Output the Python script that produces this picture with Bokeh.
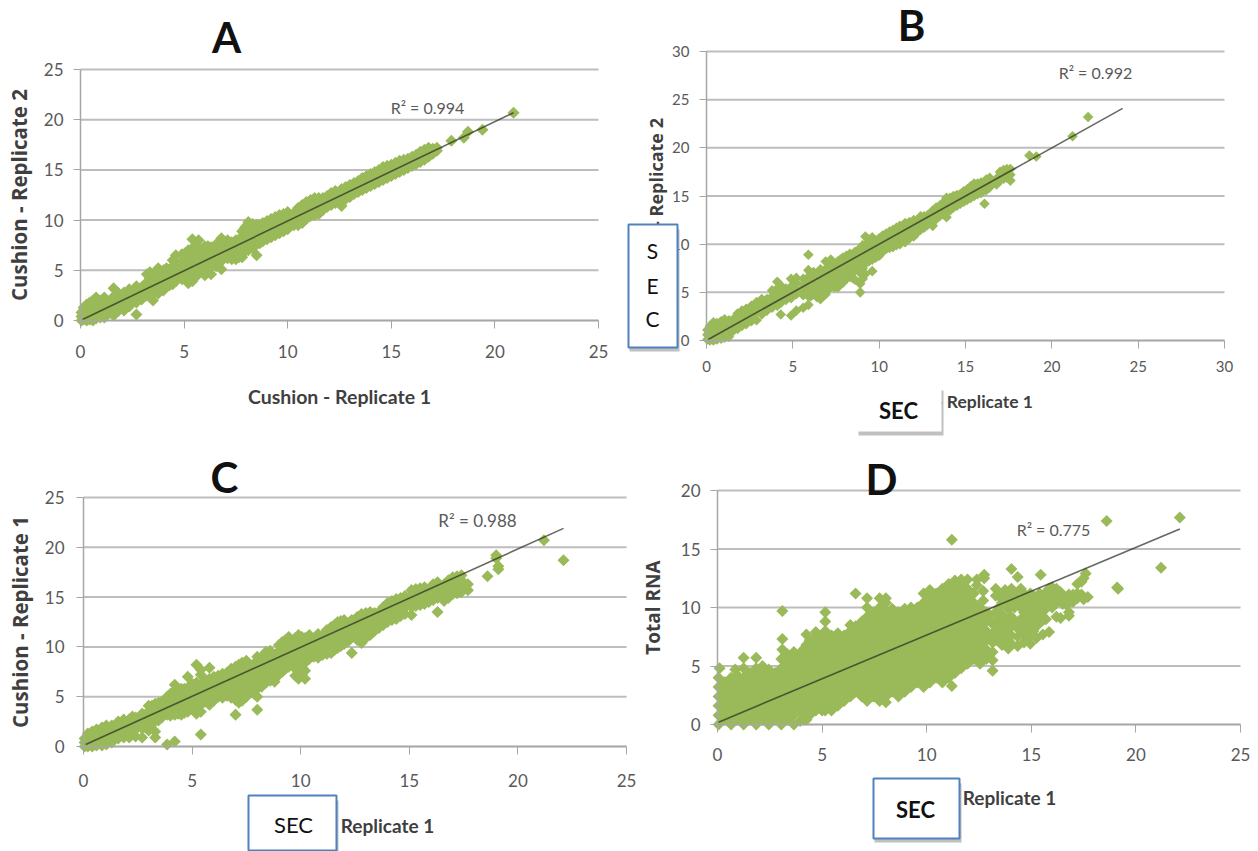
from math import pi
from bokeh.embed import file_html
from bokeh.resources import INLINE
from bokeh.layouts import column, row
from bokeh.models import BoxAnnotation, FixedTicker, Label, Range1d
from bokeh.plotting import figure

GREEN = "#9ABA59"
GRID = "#BDBDBD"
TICK = "#595959"
TITLE = "#3F3F3F"
BLUE = "#4F81BD"
FONT = "Lato"
FONT_Y = "Open Sans"

panel_titles = ["A", "B", "C", "D"]
r2_labels = ["R² = 0.994", "R² = 0.992", "R² = 0.988", "R² = 0.775"]

a_columns = [(0.05,[0.0,0.4,0.8]),(0.15,[0.1,0.6,1.0,1.3]),(0.3,[0.0,0.5,1.0,1.6]),(0.45,[0.1,0.6,1.2,1.8]),
 (0.6,[0.0,0.5,1.0,1.5,2.0]),(0.75,[0.2,0.8,1.4,2.3]),(0.95,[0.3,0.9,1.5,2.0]),(1.15,[0.3,1.0,1.6,2.3]),
 (1.35,[0.7,1.3,1.9]),(1.6,[0.5,1.1,1.7,2.4,3.2]),(1.85,[1.0,1.6,2.2,2.7]),(2.1,[1.0,1.6,2.2,2.8]),
 (2.35,[1.4,2.0,2.6,3.1]),(2.7,[0.6,1.8,2.4,3.0,3.4]),(2.95,[2.1,2.7,3.3]),(3.2,[2.5,3.1,3.8,4.6]),
 (3.35,[2.4,3.0,3.6,4.2,4.8]),(3.5,[2.0,2.8,3.4,4.0,4.6]),(3.75,[2.7,3.3,3.9,4.6,5.2]),(4.0,[3.0,3.4,4.0,4.6,5.0]),
 (4.15,[3.4,4.0,4.7,5.2]),(4.3,[3.5,3.7,4.3,4.9]),(4.45,[3.6,4.2,4.8,5.4,6.0]),
 (4.6,[3.9,4.5,5.1,5.7,6.5]),(4.9,[4.1,4.7,5.3,5.9,6.6]),(5.05,[4.2,4.8,5.4,6.0,6.7]),(5.2,[3.7,4.5,5.1,5.7,6.3,7.0]),
 (5.4,[3.9,4.6,5.2,5.8,6.4,7.2,8.1]),(5.55,[4.3,4.9,5.5,6.1,6.7,7.5]),(5.7,[4.8,5.4,6.0,6.6,7.3,8.0]),(6.0,[4.5,5.2,5.8,6.4,7.0,7.4]),
 (6.15,[5.0,5.6,6.2,6.8,7.4]),(6.3,[4.6,5.5,6.1,6.7,7.3]),(6.55,[5.4,6.0,6.6,7.2,7.6]),(6.8,[5.1,5.9,6.5,7.1,7.7,8.2]),(7.1,[6.2,6.8,7.4,8.0]),
 (7.3,[6.1,6.5,7.2,7.8]),(7.5,[6.1,6.8,7.4,8.0]),(7.65,[6.3,6.9,7.5,8.1]),
 (7.8,[6.3,7.0,7.6,8.2,8.9]),(7.95,[6.9,7.5,8.1,8.7,9.3]),(8.1,[7.0,7.6,8.2,8.9,9.8]),(8.3,[7.2,7.8,8.4,9.0,9.6]),(8.5,[6.5,7.6,8.2,8.8,9.5]),(8.65,[7.7,8.3,8.9,9.5]),(8.8,[7.9,8.5,9.1,9.7]),
 (9.0,[8.1,8.7,9.3,9.9]),(9.2,[8.3,8.9,9.5,10.1]),(9.4,[8.5,9.1,9.7,10.3]),(9.6,[8.7,9.3,9.9,10.5]),(9.8,[8.9,9.5,10.1,10.6]),(10.0,[9.1,9.7,10.3,10.8]),(10.3,[9.5,10.1,10.7]),(10.5,[9.5,10.2,10.8,11.2]),
 (10.7,[9.7,10.3,10.9,11.5]),(10.9,[10.1,10.7,11.3,11.8]),(11.1,[10.4,11.0,11.6,12.0]),(11.3,[10.5,11.1,11.7,12.2]),(11.5,[10.6,11.2,11.8,12.2]),(11.7,[11.0,11.6,12.2]),(11.9,[11.3,11.9,12.4]),(12.1,[11.5,12.1,12.7]),
 (12.3,[11.7,12.3,12.9]),(12.6,[11.4,12.1,12.7,13.1]),(12.8,[12.1,12.7,13.3]),(13.0,[12.3,12.9,13.5]),(13.2,[12.6,13.2,13.7]),(13.4,[12.8,13.4,13.9]),(13.6,[13.0,13.6,14.2]),
 (13.8,[13.2,13.8,14.4]),(14.0,[13.4,14.0,14.6]),(14.2,[13.6,14.2,14.8]),(14.4,[13.8,14.4,15.0]),(14.6,[14.0,14.6,15.3]),(14.8,[14.2,14.8,15.4]),(15.0,[14.4,15.0,15.5]),
 (15.2,[14.6,15.2,15.7]),(15.4,[14.8,15.4,15.9]),(15.6,[15.0,15.6,16.0]),(15.8,[15.2,15.7,16.1]),(16.0,[15.4,15.9,16.3]),(16.2,[15.6,16.1,16.5]),(16.4,[15.8,16.3,16.8]),(16.6,[16.0,16.5,17.0]),
 (16.8,[16.3,16.8,17.2]),(17.0,[16.6,17.1]),(17.2,[16.9,17.2]),(17.9,[17.9]),(18.5,[18.2]),(18.7,[18.8]),(19.4,[19.0]),(20.9,[20.7])]

b_columns = [(0.05,[0.1,0.6,1.1]),(0.2,[0.0,0.5,1.0,1.5]),(0.4,[0.0,0.6,1.2,1.9]),(0.6,[0.1,0.7,1.3,1.8]),
 (0.85,[0.2,0.8,1.4,2.0]),(1.05,[0.3,0.9,1.5,2.2]),(1.3,[0.4,1.0,1.6,2.1]),(1.55,[1.0,1.6,2.2]),
 (1.8,[1.2,1.8,2.4,2.8]),(2.05,[1.5,2.1,2.7,3.1]),(2.3,[1.7,2.3,2.9,3.3]),(2.6,[2.0,2.6,3.2,3.6]),
 (2.9,[2.1,2.9,3.5,4.0]),(3.2,[2.7,3.3,3.9,4.3]),(3.5,[3.1,3.7,4.3]),(3.8,[3.4,4.0,4.6,5.2]),
 (4.1,[3.6,4.2,4.8,5.4,6.1]),(4.3,[2.7,3.9,4.5,5.1,5.7]),(4.6,[4.2,4.8,5.4]),(4.9,[2.6,4.4,5.0,5.6,6.4]),
 (5.2,[3.1,4.8,5.4,6.0,6.5]),(5.6,[3.4,4.7,5.2,5.8,6.4]),(5.9,[3.7,4.6,5.4,6.0,6.6,7.3,8.9]),
 (6.05,[4.6,5.2,5.8,6.4,7.0]),(6.2,[5.3,5.9,6.5,7.1]),(6.4,[4.5,5.1,5.7,6.3,6.9]),(6.6,[4.3,5.0,5.7,6.3,6.9,7.4]),(6.75,[4.6,5.3,5.9,6.5,7.1]),(6.9,[4.8,5.5,6.1,6.7,7.3,8.2]),
 (7.05,[5.3,5.9,6.5,7.1,7.7]),(7.2,[5.6,6.2,6.8,7.4,8.4]),(7.4,[5.5,6.1,6.7,7.3,7.9]),(7.6,[5.5,6.3,7.0,7.6,8.2]),(7.75,[5.9,6.6,7.2,7.8,8.4]),(7.9,[6.0,6.8,7.4,8.0,8.6]),(8.1,[6.4,7.0,7.6,8.2,8.8]),(8.3,[6.6,7.3,7.9,8.5,9.0]),
 (8.45,[6.5,7.1,7.7,8.3,8.9]),(8.6,[6.3,7.3,8.0,8.6,9.2]),(8.9,[5.0,5.9,7.0,7.7,8.3,8.9,9.6]),(9.05,[6.4,7.5,8.1,8.7,9.3,9.9]),(9.2,[6.9,8.0,8.6,9.2,9.9,10.8]),
 (9.4,[8.2,8.8,9.4,10.0,10.5]),(9.6,[7.2,8.4,9.0,9.6,10.2,10.7]),(9.8,[8.6,9.2,9.8,10.4]),(10.0,[8.8,9.4,10.0,10.6]),(10.2,[9.2,9.8,10.4,10.9]),(10.4,[9.5,10.1,10.7,11.1]),(10.6,[9.6,10.2,10.8,11.3]),(10.8,[9.7,10.4,11.0,11.5]),
 (11.0,[9.9,10.5,11.1,11.7]),(11.2,[10.0,10.7,11.3,11.9]),(11.5,[10.2,11.0,11.6,12.2]),(11.75,[10.6,11.2,11.8,12.3]),(12.0,[10.8,11.4,12.0,12.5]),(12.2,[11.2,11.8,12.4]),(12.4,[11.5,12.1,12.9]),(12.6,[11.7,12.3,12.9]),
 (12.8,[12.0,12.6,13.0]),(13.1,[11.9,12.4,13.0,13.5]),(13.3,[12.6,13.2,13.8]),(13.5,[12.9,13.5,14.0]),(13.7,[13.1,13.7,14.3]),(13.9,[12.8,13.5,14.1,14.8]),(14.1,[13.5,14.1,14.8]),
 (14.3,[13.8,14.4,15.0]),(14.5,[14.0,14.6,15.1]),(14.7,[14.2,14.8,15.2]),(14.9,[14.4,15.0,15.5]),(15.1,[14.6,15.2,15.7]),(15.3,[14.8,15.4,16.0]),(15.5,[15.0,15.6,16.3]),(15.7,[15.2,15.8,16.3]),
 (15.9,[15.3,15.9,16.4]),(16.1,[14.2]),(16.2,[15.6,16.2,16.7]),(16.4,[15.9,16.4,16.9]),(16.8,[16.2,16.8]),(17.0,[16.6,17.1,17.5]),(17.2,[16.8,17.3,17.7]),(17.4,[16.9,17.4,17.8]),
 (17.6,[16.6,17.2,17.8]),(18.7,[19.2]),(19.1,[19.1]),(21.2,[21.2]),(22.1,[23.2])]

c_columns = [(0.05,[0.0,0.4,0.8]),(0.2,[0.0,0.5,1.0,1.3]),(0.4,[0.0,0.5,1.0,1.5]),(0.6,[0.1,0.7,1.2,1.7]),
 (0.85,[0.1,0.7,1.3,1.9]),(1.05,[0.2,0.8,1.4,2.1]),(1.3,[0.4,1.0,1.6,2.1]),(1.6,[0.8,1.4,2.0,2.5]),
 (1.85,[0.9,1.5,2.1,2.7]),(2.1,[0.9,1.5,2.1,2.7]),(2.25,[1.2,1.9,2.5,3.0]),(2.4,[1.0,1.7,2.3,2.9]),(2.7,[0.9,1.8,2.4,3.0,3.3]),(2.85,[1.9,2.6,3.2]),
 (3.0,[1.6,2.3,2.9,3.5,4.1]),(3.15,[2.2,2.9,3.5,4.1]),(3.3,[0.9,1.5,2.7,3.3,3.9,4.3]),(3.45,[2.6,3.2,3.8,4.4]),(3.6,[2.9,3.5,4.1,4.5]),(3.85,[0.2,3.2,3.8,4.4,5.0]),(4.0,[3.1,3.7,4.3,4.9,5.3]),
 (4.2,[0.5,3.2,3.8,4.4,5.0,5.6,6.2]),(4.35,[3.3,3.9,4.5,5.1,5.7]),(4.5,[3.2,3.9,4.5,5.1,5.8]),(4.65,[3.4,4.0,4.6,5.2,5.8]),(4.8,[3.5,4.1,4.7,5.3,5.9,7.0]),(5.0,[3.9,4.5,5.1,5.7,6.3]),
 (5.2,[3.3,4.0,4.6,5.2,5.8,6.4,8.2]),(5.4,[1.2,3.5,4.2,4.8,5.4,6.0,7.2,7.7]),(5.6,[4.5,5.1,5.7,6.3,6.7]),(5.8,[4.2,5.0,5.6,6.2,6.8,7.9]),(6.0,[4.6,5.3,5.9,6.5,7.0]),
 (6.2,[5.0,5.6,6.2,6.8,7.1]),(6.4,[4.9,5.5,6.1,6.7,7.3]),(6.6,[5.1,5.7,6.3,6.9,7.4]),(6.8,[4.9,5.4,6.0,6.6,7.2,7.8]),(7.0,[3.2,4.7,5.5,6.1,6.7,7.3,8.0]),
 (7.15,[4.4,5.1,5.7,6.3,6.9,7.5,8.2]),(7.3,[4.6,5.4,6.0,6.6,7.2,7.8,8.4]),(7.5,[5.0,5.6,6.2,6.8,7.4,8.0,8.6]),(7.7,[5.5,6.2,6.8,7.4,8.0]),(7.85,[5.3,5.9,6.5,7.1,7.7,8.3]),(8.0,[3.7,5.0,5.8,6.5,7.1,7.7,8.3,9.0]),
 (8.2,[6.0,6.6,7.2,7.8,8.4,9.0]),(8.4,[6.4,7.0,7.6,8.2,8.8,9.5]),(8.6,[6.6,7.2,7.8,8.4,9.0,9.6]),(8.8,[6.5,7.3,7.9,8.5,9.1]),(9.0,[7.2,7.8,8.4,9.0,9.6,10.2]),(9.15,[7.5,8.1,8.7,9.3,9.9,10.5]),(9.3,[7.8,8.5,9.1,9.7,10.7]),(9.45,[8.0,8.6,9.2,9.8,10.4,11.0]),(9.6,[8.2,8.8,9.4,10.0,10.6]),
 (9.75,[7.1,7.8,8.5,9.1,9.7,10.3,10.9]),(9.9,[6.8,7.5,8.2,8.8,9.4,10.0,11.2]),(10.05,[7.2,7.9,8.6,9.2,9.8,10.4,11.0]),(10.2,[6.8,7.6,8.4,9.0,9.6,10.2,10.9]),(10.4,[8.8,9.4,10.0,10.6,11.2]),(10.6,[9.0,9.6,10.2,10.8]),(10.8,[8.9,9.5,10.1,10.7,11.3]),
 (11.0,[9.2,9.9,10.5,11.1]),(11.2,[9.3,9.9,10.5,11.1,11.7]),(11.4,[9.4,10.1,10.7,11.3,12.0]),(11.55,[9.7,10.3,10.9,11.5,12.2]),(11.7,[9.9,10.5,11.1,11.7,12.5]),(11.85,[10.1,10.7,11.3,11.9,12.6]),
 (12.0,[10.3,10.9,11.5,12.1,12.7]),(12.2,[10.6,11.2,11.8,12.4]),(12.35,[9.4,11.0,11.6,12.2,12.7]),(12.6,[10.7,11.3,11.9,12.5,13.0]),(12.8,[10.4,11.0,11.6,12.2,12.8,13.3]),(13.0,[10.9,11.5,12.1,12.7,13.4]),
 (13.2,[11.2,11.8,12.4,13.0,13.5]),(13.4,[11.6,12.2,12.8,13.4]),(13.6,[11.9,12.5,13.1,13.5]),(13.8,[12.2,12.8,13.4,14.0]),(14.0,[12.5,13.1,13.7,14.4]),(14.2,[12.7,13.3,13.9,14.6]),(14.4,[12.8,13.5,14.1,14.8]),(14.6,[13.1,13.7,14.3,14.9]),
 (14.8,[13.3,13.9,14.5,15.1]),(15.1,[13.2,14.0,14.6,15.2,15.7]),(15.3,[14.1,14.7,15.3,15.8]),(15.5,[14.2,14.8,15.4,15.9]),(15.7,[14.3,14.9,15.5,16.0]),(15.9,[14.5,15.1,15.7]),(16.1,[14.7,15.3,15.9,16.3]),
 (16.3,[13.5,14.9,15.5,16.1,16.5]),(16.6,[14.6,15.2,15.8,16.3]),(16.8,[14.9,15.5,16.1,16.7]),(17.0,[15.3,15.9,16.5,17.0]),(17.2,[15.4,16.0,16.6,17.1]),(17.4,[15.5,16.1,16.7,17.2]),
 (17.7,[15.7,16.3]),(18.6,[17.1]),(19.0,[18.9,19.2]),(19.1,[17.8,18.1]),(21.2,[20.7]),(22.1,[18.7])]

d_columns = [(0.05,[0.0,0.8,1.6,2.4,3.2,4.0]),(0.1,[4.8]),(0.35,[0.4,1.2,2.0,2.8,3.6]),(0.65,[0.0,0.8,1.6,2.4,3.2,4.0]),
 (0.85,[4.7]),(0.95,[0.4,1.2,2.0,2.8,3.6,4.2]),(1.25,[0.0,0.8,1.6,2.4,3.2,4.0,4.8,5.7]),(1.55,[0.4,1.2,2.0,2.8,3.6,4.4]),
 (1.85,[0.0,0.8,1.6,2.4,3.2,4.0,4.8,5.7]),(2.15,[0.4,1.2,2.0,2.8,3.6,4.4,5.0]),(2.45,[0.0,0.8,1.6,2.4,3.2,4.0,4.7]),
 (2.75,[0.4,1.2,2.0,2.8,3.6,4.4]),(3.05,[0.0,0.8,1.6,2.4,3.2,4.0,4.8,5.6]),(3.1,[6.4,7.3,9.7]),
 (3.35,[0.4,1.2,2.0,2.8,3.6,4.4,5.2,6.0]),(3.65,[0.0,0.8,1.6,2.4,3.2,4.0,4.8,5.6,6.2]),
 (3.95,[0.3,1.2,2.0,2.8,3.6,4.4,5.2,6.0]),(4.1,[0.4,0.8,1.6,2.4,3.2,4.0,4.8,5.6,6.4]),(4.25,[0.4,1.2,2.0,2.8,3.6,4.4,5.2,6.0,6.8,7.7]),(4.4,[0.8,1.6,2.4,3.2,4.0,4.8,5.6,6.4,7.2]),
 (4.55,[1.3,1.6,2.4,3.2,4.0,4.8,5.6,6.4,7.2]),(4.7,[1.2,2.0,2.8,3.6,4.4,5.2,6.0,6.8,7.9]),(4.85,[1.6,2.4,3.2,4.0,4.8,5.6,6.4,7.2,7.6]),(5.0,[1.2,2.0,2.8,3.6,4.4,5.2,6.0,6.8,7.6]),
 (5.15,[1.2,1.6,2.4,3.2,4.0,4.8,5.6,6.4,7.2,8.0,8.8,9.6]),(5.45,[1.2,2.0,2.8,3.6,4.4,5.2,6.0,6.8,7.6]),
 (5.75,[1.6,2.4,3.2,4.0,4.8,5.6,6.4,7.2,7.8]),(6.05,[2.0,2.8,3.6,4.4,5.2,6.0,6.8,7.6]),
 (6.35,[2.4,3.2,4.0,4.8,5.6,6.4,7.2,8.0,8.5]),(6.6,[2.8,3.6,4.4,5.2,6.0,6.8,7.6,8.4,11.2]),
 (6.9,[2.4,3.2,4.0,4.8,5.6,6.4,7.2,8.0,8.8]),(7.15,[2.0,2.8,3.6,4.4,5.2,6.0,6.8,7.6,8.4,9.2,10.0,10.8]),
 (7.45,[2.4,3.2,4.0,4.8,5.6,6.4,7.2,8.0,8.8,9.6]),(7.75,[2.0,2.8,3.6,4.4,5.2,6.0,6.8,7.6,8.4,9.2,10.0,10.8]),
 (8.05,[1.9,2.4,3.2,4.0,4.8,5.6,6.4,7.2,8.0,8.8,9.6,10.4,10.8]),(8.35,[2.8,3.6,4.4,5.2,6.0,6.8,7.6,8.4,9.2,9.9]),
 (8.65,[2.4,3.2,4.0,4.8,5.6,6.4,7.2,8.0,8.8,9.6]),(8.95,[2.8,3.6,4.4,5.2,6.0,6.8,7.6,8.4,9.2,9.9]),
 (9.25,[3.2,4.0,4.8,5.6,6.4,7.2,8.0,8.8,9.6,10.0]),(9.55,[3.6,4.4,5.2,6.0,6.8,7.6,8.4,9.2,10.0]),
 (9.85,[3.2,4.0,4.8,5.6,6.4,7.2,8.0,8.8,9.6,10.4,11.2]),(10.15,[3.6,4.4,5.2,6.0,6.8,7.6,8.4,9.2,10.0,10.8,11.5]),
 (10.45,[4.0,4.8,5.6,6.4,7.2,8.0,8.8,9.6,10.4,11.2]),(10.75,[3.6,4.4,5.2,6.0,6.8,7.6,8.4,9.2,10.0,10.8,11.6]),
 (11.05,[4.0,4.8,5.6,6.4,7.2,8.0,8.8,9.6,10.4,11.2,12.0]),(11.2,[3.3,15.8]),
 (11.35,[4.4,5.2,6.0,6.8,7.6,8.4,9.2,10.0,10.8,11.6,12.3]),(11.65,[4.8,5.6,6.4,7.2,8.0,8.8,9.6,10.4,11.2,12.0,12.4]),
 (11.95,[5.2,6.0,6.8,7.6,8.4,9.2,10.0,10.8,11.6,12.4]),(12.25,[5.6,6.4,7.2,8.0,8.8,9.6,10.4,11.2]),
 (12.4,[11.9,12.4]),(12.55,[5.2,6.0,6.8,7.6,8.4,9.2,10.0]),(12.7,[10.6,11.4]),(12.75,[12.5,12.8]),(12.85,[5.6,6.4,7.2,8.0,8.8,9.6]),
 (13.0,[6.0,7.4,9.0,9.4]),(13.15,[4.6,5.5,6.2,7.0,7.8,8.6]),(13.3,[7.2,8.0,8.8,9.6,11.0,11.6]),(13.45,[7.6,8.4,9.2,10.0,11.0]),(13.6,[6.8,7.9,8.6,9.4,10.4,11.0]),(13.75,[7.2,8.0,8.8,10.6,11.5]),
 (13.9,[6.5,7.4,8.2,9.0,9.9,11.1]),(14.05,[6.9,7.6,8.4,9.2,10.2,11.0,11.6,13.3]),(14.2,[8.8,10.0,10.5,11.3]),(14.35,[6.7,7.5,8.2,10.7,12.6]),(14.5,[9.0,10.0,11.6]),(14.65,[7.0,7.8,8.6,9.6,10.4,11.2]),
 (14.8,[7.3,8.2,9.0,10.8]),(14.95,[6.9,7.7,8.5,9.2,10.0,10.7,11.2]),(15.1,[8.0,8.9,9.6,10.4,11.0]),(15.25,[7.4,8.4,9.2,10.0,10.7]),(15.4,[8.8,9.6,10.5,11.2]),(15.45,[12.8]),(15.55,[7.7,8.9,9.7,10.4,11.0]),
 (15.7,[9.0,9.9,10.6,11.3]),(15.85,[7.9,10.2,10.9,11.6]),(16.0,[10.0,10.6,11.2,11.7]),(16.2,[9.2,10.4,11.0,11.6]),(16.4,[9.1,10.7,11.3]),(16.5,[10.3,11.0]),(16.7,[10.2,10.9]),(16.8,[9.3,9.6,10.6,11.1]),
 (17.0,[10.5,11.1]),(17.2,[10.8,11.2,12.0]),(17.4,[11.1,12.2]),(17.5,[10.7,12.5]),(17.6,[12.9]),(17.7,[10.9]),(18.6,[17.4]),(19.1,[11.7]),(19.15,[11.6]),
 (21.2,[13.4]),(22.1,[17.7])]

a_trend = ([0.1, 20.9], [0.1, 20.7])
b_trend = ([0.1, 24.1], [0.1, 24.1])
c_trend = ([0.1, 22.1], [0.2, 21.9])
d_trend = ([0.05, 22.1], [0.2, 16.7])

a_ticks_x = [0, 5, 10, 15, 20, 25]
a_ticks_y = [0, 5, 10, 15, 20, 25]
b_ticks = [0, 5, 10, 15, 20, 25, 30]
d_ticks_y = [0, 5, 10, 15, 20]


def panel(box, origin, span, ticks_x, ticks_y, columns, trend, size, label_px, x_off, y_off,
          xtitle=None, ytitle=None, title_x_off=24, title_y_off=12, ytitle_px="20.5px"):
    """box: the figure on the page; origin/span: page px of (0,0) and of the last ticks."""
    fl, ft, fr, fb = box
    x0, y0 = origin
    x1, y1 = span
    xmax, ymax = ticks_x[-1], ticks_y[-1]
    ux, uy = (x1 - x0) / xmax, (y0 - y1) / ymax
    p = figure(width=fr - fl, height=fb - ft, output_backend="svg", toolbar_location=None,
               x_range=Range1d((fl - x0) / ux, (fr - x0) / ux), y_range=Range1d((y0 - fb) / uy, (y0 - ft) / uy),
               min_border=0, frame_align=False,
               background_fill_color="white", border_fill_color="white")
    p.outline_line_color = None
    p.grid.visible = False
    xa, ya = p.xaxis[0], p.yaxis[0]
    xa.ticker = FixedTicker(ticks=ticks_x)
    ya.ticker = FixedTicker(ticks=ticks_y)
    xa.fixed_location = 0
    ya.fixed_location = 0
    xa.bounds = (0, xmax)
    ya.bounds = (0, ymax)
    for ax in (xa, ya):
        ax.axis_line_color = "#A6A6A6"
        ax.axis_line_width = 1.5
        ax.major_tick_in = 0
        ax.major_tick_line_color = "#A6A6A6"
        ax.minor_tick_line_color = None
        ax.major_label_text_color = TICK
        ax.major_label_text_font = FONT
        ax.major_label_text_font_size = label_px
        ax.axis_label_text_color = TITLE
        ax.axis_label_text_font_style = "bold"
    xa.major_tick_out = 8
    ya.major_tick_out = 7
    xa.axis_label_text_font = FONT
    xa.axis_label_text_font_size = "19.5px"
    ya.axis_label_text_font = FONT_Y
    ya.axis_label_text_font_size = ytitle_px
    xa.major_label_standoff = x_off
    ya.major_label_standoff = y_off
    xa.axis_label_standoff = title_x_off
    ya.axis_label_standoff = title_y_off
    if xtitle:
        xa.axis_label = xtitle
    if ytitle:
        ya.axis_label = ytitle
    p.segment([0] * len(ticks_y), ticks_y, [xmax] * len(ticks_y), ticks_y, line_color=GRID, line_width=2)
    xs = [x for x, ys in columns for _ in ys]
    ys_flat = [y for _, ys in columns for y in ys]
    p.scatter(xs, ys_flat, marker="square", size=size, angle=pi / 4, fill_color=GREEN, line_color=None)
    p.line(trend[0], trend[1], line_color="#2A2F22", line_alpha=0.72, line_width=1.6)

    def lx(px):
        return (px - x0) / ux

    def ly(py):
        return (y0 - py) / uy

    def text(px, py, s, font_size, color=TICK, style="normal", angle=0.0, font=FONT):
        p.add_layout(Label(x=lx(px), y=ly(py), text=s, text_font=font, text_font_size=font_size,
                           text_color=color, text_font_style=style, text_align="center",
                           text_baseline="middle", angle=angle, level="overlay"))

    def card(left, top, right, bottom, border, width=2):
        p.add_layout(BoxAnnotation(left=lx(left + 1), right=lx(right + 2), top=ly(top + 5), bottom=ly(bottom + 4),
                                   fill_color="#8C8C8C", fill_alpha=0.55, line_color=None, level="overlay"))
        p.add_layout(BoxAnnotation(left=lx(left), right=lx(right), top=ly(top), bottom=ly(bottom),
                                   fill_color="white", fill_alpha=1.0, line_color=border,
                                   line_width=width, line_alpha=1.0, level="overlay"))
    return p, text, card


a, ta, _ = panel((0, 0, 620, 440), (80, 320), (598, 69), a_ticks_x, a_ticks_y, a_columns, a_trend, 8.5,
                 "17px", 16, 10, "Cushion - Replicate 1", "Cushion - Replicate 2", title_y_off=8)
ta(226, 36, panel_titles[0], "42px", "#111111", "bold")
ta(427, 107, r2_labels[0], "16px")

b, tb, cb = panel((620, 0, 1250, 440), (706, 340), (1224, 51), b_ticks, b_ticks, b_columns, b_trend, 7.5,
                  "15px", 12, 10)
tb(911, 24, panel_titles[1], "42px", "#111111", "bold")
tb(1095, 72, r2_labels[1], "16px")
tb(984, 401, "- Replicate 1", "17.5px", TITLE, "bold")
tb(655, 172, "- Replicate 2", "18px", TITLE, "bold", pi / 2, FONT_Y)
cb(628, 224, 677, 347, BLUE)
tb(652, 250, "S", "21px", "#111111")
tb(652, 285, "E", "21px", "#111111")
tb(652, 318, "C", "21px", "#111111")
cb(857, 385, 941, 431, None)
tb(898, 410, "SEC", "22px", "#111111", "bold")

c, tc, cc = panel((0, 440, 640, 851), (83, 746), (626, 497), a_ticks_x, a_ticks_y, c_columns, c_trend, 8.5,
                  "17px", 19, 12, None, "Cushion - Replicate 1", title_y_off=8)
tc(224, 476, panel_titles[2], "42px", "#111111", "bold")
tc(477, 520, r2_labels[2], "17px")
tc(387, 825, "Replicate 1", "19px", TITLE, "bold")
cc(248, 795, 336, 850, BLUE)
tc(293, 824, "SEC", "22px", "#111111")

d, td, cd = panel((640, 440, 1250, 851), (717, 724), (1240, 490), a_ticks_x, d_ticks_y, d_columns, d_trend, 8.5,
                  "17px", 15, 10, None, "Total RNA", title_y_off=12, ytitle_px="19px")
td(881, 478, panel_titles[3], "42px", "#111111", "bold")
td(1053, 529, r2_labels[3], "16px")
td(1009, 797, "Replicate 1", "19px", TITLE, "bold")
cd(873, 778, 959, 838, BLUE)
td(915, 809, "SEC", "22px", "#111111", "bold")

page = column(row(a, b, spacing=0), row(c, d, spacing=0), spacing=0)
open("out.html", "w").write(file_html(page, INLINE))
